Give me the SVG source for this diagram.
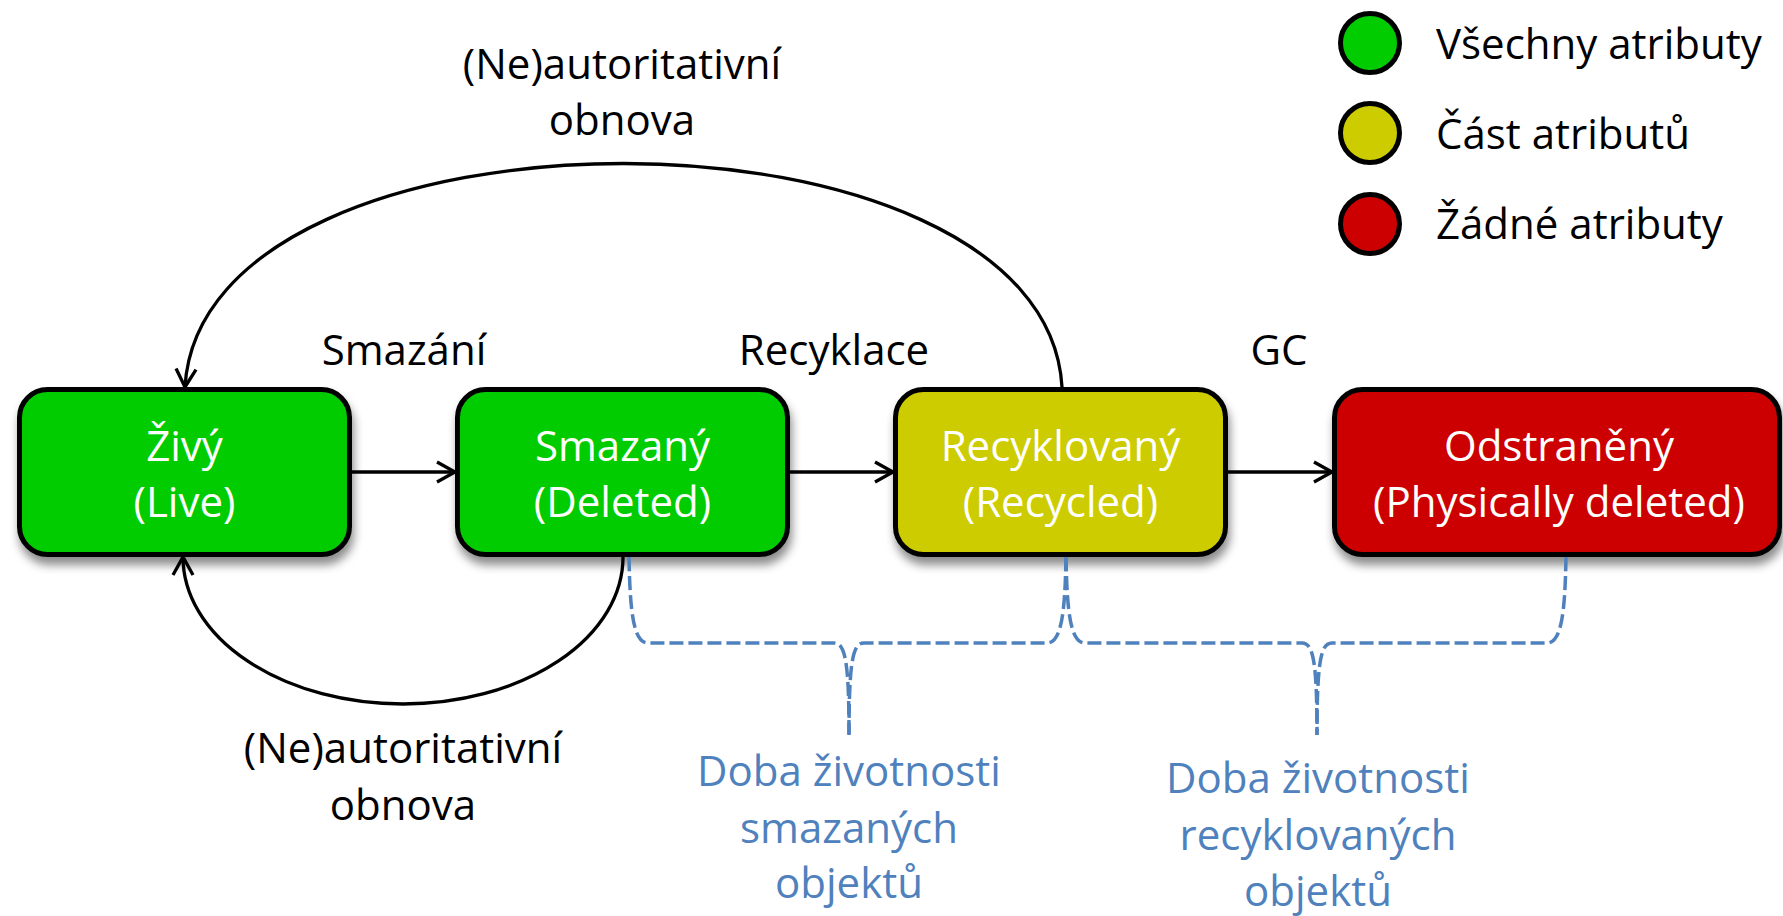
<svg xmlns="http://www.w3.org/2000/svg" width="1783" height="916" viewBox="0 0 1783 916">
<defs>
<style>
.box{stroke:#000;stroke-width:5;filter:url(#sh)}
.g{fill:#00CC00}.y{fill:#CCCC00}.r{fill:#CC0000}
.bt{font-family:"Open Sans","Liberation Sans",sans-serif;font-size:42px;fill:#fff;text-anchor:middle}
.lt{font-family:"Open Sans","Liberation Sans",sans-serif;font-size:42px;fill:#000;text-anchor:middle}
.leg{font-family:"Open Sans","Liberation Sans",sans-serif;font-size:42px;fill:#000}
.bl{font-family:"Open Sans","Liberation Sans",sans-serif;font-size:42px;fill:#4F81BD;text-anchor:middle}
.con{fill:none;stroke:#000;stroke-width:3.3;marker-end:url(#arr)}
.brace{fill:none;stroke:#4F81BD;stroke-width:3.5;stroke-dasharray:14 5}
.lc{stroke:#000;stroke-width:5}
</style>
<filter id="sh" x="-10%" y="-10%" width="130%" height="140%">
<feDropShadow dx="2" dy="8" stdDeviation="5" flood-color="#000" flood-opacity="0.45"/>
</filter>
<marker id="arr" markerWidth="26" markerHeight="26" refX="20" refY="12" orient="auto" markerUnits="userSpaceOnUse">
<path d="M2,2 L20,12 L2,22" fill="none" stroke="#000" stroke-width="3.3"/>
</marker>
</defs>
<rect width="1783" height="916" fill="#fff"/>

<g id="legend">
<circle class="lc" cx="1370" cy="43" r="29.5" fill="#00CC00"/>
<circle class="lc" cx="1370" cy="133" r="29.5" fill="#CCCC00"/>
<circle class="lc" cx="1370" cy="224" r="29.5" fill="#CC0000"/>
<text class="leg" x="1436" y="59">Všechny atributy</text>
<text class="leg" x="1436" y="149">Část atributů</text>
<text class="leg" x="1436" y="239">Žádné atributy</text>
</g>

<g id="node-live">
<rect class="box g" x="19.5" y="389.5" width="330" height="165" rx="28"/>
<text class="bt" x="184.5" y="461">Živý</text>
<text class="bt" x="184.5" y="517">(Live)</text>
</g>
<g id="node-deleted">
<rect class="box g" x="457.5" y="389.5" width="330" height="165" rx="28"/>
<text class="bt" x="622.5" y="461">Smazaný</text>
<text class="bt" x="622.5" y="517">(Deleted)</text>
</g>
<g id="node-recycled">
<rect class="box y" x="895.5" y="389.5" width="330" height="165" rx="28"/>
<text class="bt" x="1060.5" y="461">Recyklovaný</text>
<text class="bt" x="1060.5" y="517">(Recycled)</text>
</g>
<g id="node-removed">
<rect class="box r" x="1334.5" y="389.5" width="445" height="165" rx="28"/>
<text class="bt" x="1559" y="461">Odstraněný</text>
<text class="bt" x="1559" y="517">(Physically deleted)</text>
</g>

<g id="connectors">
<path class="con" d="M352,472 L455,472"/>
<path class="con" d="M790,472 L893,472"/>
<path class="con" d="M1228,472 L1332,472"/>
<path class="con" d="M1062,387 C1045,89 202,89 185,387"/>
<path class="con" d="M623,557 A220,147 0 0 1 183,557"/>
</g>

<g id="labels">
<text class="lt" x="404" y="365">Smazání</text>
<text class="lt" x="834" y="365">Recyklace</text>
<text class="lt" x="1279" y="365">GC</text>
<text class="lt" x="622" y="79">(Ne)autoritativní</text>
<text class="lt" x="622" y="135">obnova</text>
<text class="lt" x="403" y="763">(Ne)autoritativní</text>
<text class="lt" x="403" y="820">obnova</text>
</g>

<g id="braces">
<path class="brace" d="M629,557 C630,610 633,643 648,643 L834,643 C845,643 849,660 849,735"/>
<path class="brace" d="M1066,557 C1065,610 1062,643 1047,643 L864,643 C853,643 849,660 849,735"/>
<path class="brace" d="M1066,557 C1067,610 1070,643 1085,643 L1302,643 C1313,643 1317,660 1317,735"/>
<path class="brace" d="M1566,557 C1565,610 1562,643 1547,643 L1332,643 C1321,643 1317,660 1317,735"/>
</g>

<g id="brace-labels">
<text class="bl" x="849" y="786">Doba životnosti</text>
<text class="bl" x="849" y="843">smazaných</text>
<text class="bl" x="849" y="898">objektů</text>
<text class="bl" x="1318" y="793">Doba životnosti</text>
<text class="bl" x="1318" y="850">recyklovaných</text>
<text class="bl" x="1318" y="906">objektů</text>
</g>
</svg>
